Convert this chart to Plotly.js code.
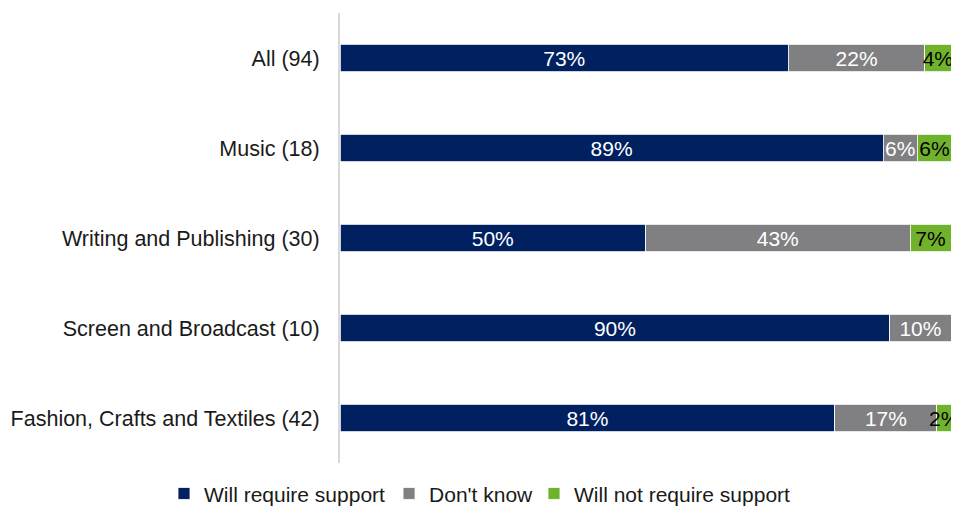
<!DOCTYPE html>
<html>
<head>
<meta charset="utf-8">
<script src="https://cdn.plot.ly/plotly-3.0.1.min.js"></script>
<style>html,body{margin:0;padding:0;background:#fff;}#chart{width:958px;height:507px;}</style>
</head>
<body>
<div id="chart"></div>
<script>
const categories = ["All (94)", "Music (18)", "Writing and Publishing (30)", "Screen and Broadcast (10)", "Fashion, Crafts and Textiles (42)"];
const willRequire = [73.4, 88.9, 50.0, 90.0, 81.0];
const dontKnow = [22.3, 5.6, 43.3, 10.0, 16.7];
const willNotRequire = [4.3, 5.6, 6.7, 0, 2.4];
const seriesNames = ["Will require support", "Don't know", "Will not require support"];
const colors = ["#002060", "#808083", "#71b22d"];
const textColors = ["#ffffff", "#ffffff", "#000000"];

const FONT = "Liberation Sans, Arial, sans-serif";
const legendIds = ["legend", "legend2", "legend3"];
const legendX = [0.1712, 0.4061, 0.5574];
const lbl = arr => arr.map(v => v > 0 ? Math.round(v) + "%" : "");
const series = [willRequire, dontKnow, willNotRequire];
const traces = series.map((vals, i) => ({
  type: "bar",
  orientation: "h",
  y: categories,
  x: vals,
  name: seriesNames[i],
  legend: legendIds[i],
  text: lbl(vals),
  textposition: "inside",
  insidetextanchor: "middle",
  constraintext: "none",
  textangle: 0,
  textfont: {family: FONT, size: 21, color: textColors[i]},
  marker: {color: colors[i], line: {color: "#ffffff", width: 0.8}},
  hoverinfo: "skip"
}));

const layout = {
  width: 958, height: 507,
  margin: {l: 340, r: 7, t: 13, b: 44},
  barmode: "stack",
  bargap: 0.69,
  paper_bgcolor: "#ffffff",
  plot_bgcolor: "#ffffff",
  font: {family: FONT, size: 21, color: "#1a1a1a"},
  xaxis: {range: [0, 100], visible: false, fixedrange: true},
  yaxis: {
    autorange: "reversed",
    showline: true, linecolor: "#d9d9d9", linewidth: 2,
    showgrid: false, zeroline: false, ticks: "",
    ticklabelstandoff: 14,
    automargin: false,
    tickfont: {family: FONT, size: 21.5, color: "#1a1a1a"}
  },
  showlegend: true
};
legendIds.forEach((id, i) => {
  layout[id] = {
    orientation: "h", xref: "container", x: legendX[i], xanchor: "left",
    yref: "container", y: 0.026, yanchor: "middle",
    font: {family: FONT, size: 21, color: "#1a1a1a"},
    itemwidth: 30
  };
});
Plotly.newPlot("chart", traces, layout, {displayModeBar: false, staticPlot: true});
</script>
</body>
</html>
